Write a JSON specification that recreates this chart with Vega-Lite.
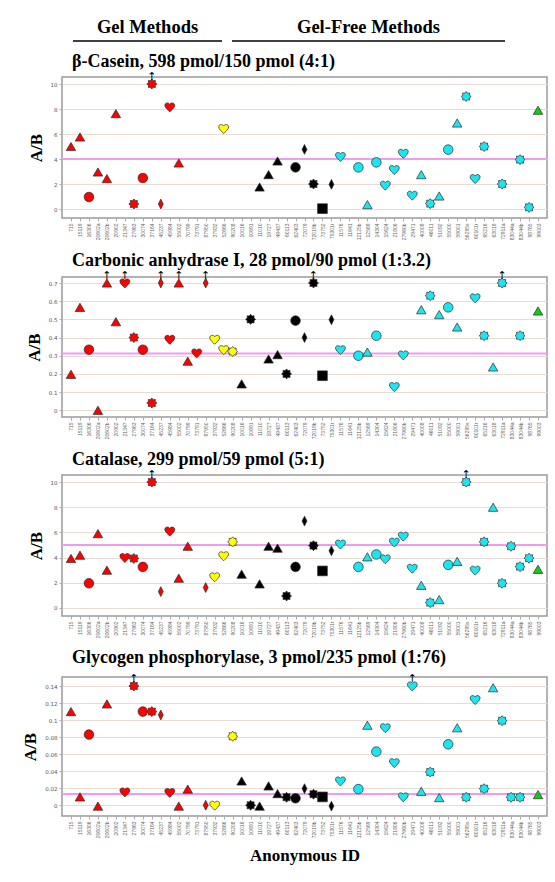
{
  "$schema": "https://vega.github.io/schema/vega-lite/v6.json",
  "background": "white",
  "padding": {"left": 21, "top": 18, "right": 5, "bottom": 5},
  "datasets": {
    "labs": [
      {"id": "715", "platform": "Gel 2D", "method": "M1"},
      {"id": "15119", "platform": "Gel 2D", "method": "M1"},
      {"id": "16306", "platform": "Gel 2D", "method": "M2"},
      {"id": "20602a", "platform": "Gel 2D", "method": "M1"},
      {"id": "20602b", "platform": "Gel 2D", "method": "M1"},
      {"id": "20902", "platform": "Gel 2D", "method": "M1"},
      {"id": "21347", "platform": "Gel 2D", "method": "M5"},
      {"id": "27963", "platform": "Gel 2D", "method": "M6"},
      {"id": "30074", "platform": "Gel 2D", "method": "M2"},
      {"id": "37164", "platform": "Gel 2D", "method": "M6"},
      {"id": "45237", "platform": "Gel 2D", "method": "M4"},
      {"id": "45984", "platform": "Gel 2D", "method": "M5"},
      {"id": "55002", "platform": "Gel 2D", "method": "M1"},
      {"id": "70799", "platform": "Gel 2D", "method": "M1"},
      {"id": "73791", "platform": "Gel 2D", "method": "M5"},
      {"id": "87950", "platform": "Gel 2D", "method": "M4"},
      {"id": "37932", "platform": "Gel 1D", "method": "M5"},
      {"id": "52666", "platform": "Gel 1D", "method": "M5"},
      {"id": "90208", "platform": "Gel 1D", "method": "M6"},
      {"id": "10016", "platform": "Free A", "method": "M1"},
      {"id": "10691", "platform": "Free A", "method": "M6"},
      {"id": "11010", "platform": "Free A", "method": "M1"},
      {"id": "19727", "platform": "Free A", "method": "M1"},
      {"id": "49437", "platform": "Free A", "method": "M1"},
      {"id": "60113", "platform": "Free A", "method": "M6"},
      {"id": "62403", "platform": "Free A", "method": "M2"},
      {"id": "72079", "platform": "Free A", "method": "M4"},
      {"id": "72019b", "platform": "Free A", "method": "M6"},
      {"id": "73752", "platform": "Free A", "method": "M3"},
      {"id": "75301r", "platform": "Free A", "method": "M4"},
      {"id": "11576", "platform": "Free B", "method": "M5"},
      {"id": "11641", "platform": "Free B", "method": "M5"},
      {"id": "12125b", "platform": "Free B", "method": "M2"},
      {"id": "12569", "platform": "Free B", "method": "M1"},
      {"id": "14304", "platform": "Free B", "method": "M2"},
      {"id": "15624", "platform": "Free B", "method": "M5"},
      {"id": "21806", "platform": "Free B", "method": "M5"},
      {"id": "27960b", "platform": "Free B", "method": "M5"},
      {"id": "29471", "platform": "Free B", "method": "M5"},
      {"id": "40008", "platform": "Free B", "method": "M1"},
      {"id": "46011", "platform": "Free B", "method": "M6"},
      {"id": "51092", "platform": "Free B", "method": "M1"},
      {"id": "55000", "platform": "Free B", "method": "M2"},
      {"id": "59001", "platform": "Free B", "method": "M1"},
      {"id": "56295s", "platform": "Free B", "method": "M6"},
      {"id": "60101r", "platform": "Free B", "method": "M5"},
      {"id": "65216", "platform": "Free B", "method": "M6"},
      {"id": "63018", "platform": "Free B", "method": "M1"},
      {"id": "72911a", "platform": "Free B", "method": "M6"},
      {"id": "83044a", "platform": "Free B", "method": "M6"},
      {"id": "83044b", "platform": "Free B", "method": "M6"},
      {"id": "98765", "platform": "Free B", "method": "M6"},
      {"id": "99003", "platform": "Free C", "method": "M1"}
    ],
    "proteins": [
      {"protein": "β-Casein", "expected": 4},
      {"protein": "Carbonic anhydrase I", "expected": 0.3125},
      {"protein": "Catalase", "expected": 5},
      {"protein": "Glycogen phosphorylase", "expected": 0.0132}
    ],
    "obs": [
      {"protein": "β-Casein", "id": "715", "ab": 5.0},
      {"protein": "β-Casein", "id": "15119", "ab": 5.76},
      {"protein": "β-Casein", "id": "16306", "ab": 0.96},
      {"protein": "β-Casein", "id": "20602a", "ab": 2.96},
      {"protein": "β-Casein", "id": "20602b", "ab": 2.43},
      {"protein": "β-Casein", "id": "20902", "ab": 7.63},
      {"protein": "β-Casein", "id": "27963", "ab": 0.4},
      {"protein": "β-Casein", "id": "30074", "ab": 2.48},
      {"protein": "β-Casein", "id": "37164", "ab": 10, "capped": true},
      {"protein": "β-Casein", "id": "45237", "ab": 0.4},
      {"protein": "β-Casein", "id": "45984", "ab": 8.16},
      {"protein": "β-Casein", "id": "55002", "ab": 3.68},
      {"protein": "β-Casein", "id": "52666", "ab": 6.43},
      {"protein": "β-Casein", "id": "11010", "ab": 1.76},
      {"protein": "β-Casein", "id": "19727", "ab": 2.75},
      {"protein": "β-Casein", "id": "49437", "ab": 3.84},
      {"protein": "β-Casein", "id": "62403", "ab": 3.33},
      {"protein": "β-Casein", "id": "72079", "ab": 4.77},
      {"protein": "β-Casein", "id": "72019b", "ab": 2.0},
      {"protein": "β-Casein", "id": "73752", "ab": 0.03},
      {"protein": "β-Casein", "id": "75301r", "ab": 1.97},
      {"protein": "β-Casein", "id": "11576", "ab": 4.2},
      {"protein": "β-Casein", "id": "12125b", "ab": 3.33},
      {"protein": "β-Casein", "id": "12569", "ab": 0.35},
      {"protein": "β-Casein", "id": "14304", "ab": 3.73},
      {"protein": "β-Casein", "id": "15624", "ab": 1.9},
      {"protein": "β-Casein", "id": "21806", "ab": 3.15},
      {"protein": "β-Casein", "id": "27960b", "ab": 4.45},
      {"protein": "β-Casein", "id": "29471", "ab": 1.1},
      {"protein": "β-Casein", "id": "40008", "ab": 2.75},
      {"protein": "β-Casein", "id": "46011", "ab": 0.43},
      {"protein": "β-Casein", "id": "51092", "ab": 1.04},
      {"protein": "β-Casein", "id": "55000", "ab": 4.75},
      {"protein": "β-Casein", "id": "59001", "ab": 6.88},
      {"protein": "β-Casein", "id": "56295s", "ab": 9.0},
      {"protein": "β-Casein", "id": "60101r", "ab": 2.43},
      {"protein": "β-Casein", "id": "65216", "ab": 5.0},
      {"protein": "β-Casein", "id": "72911a", "ab": 2.0},
      {"protein": "β-Casein", "id": "83044b", "ab": 3.95},
      {"protein": "β-Casein", "id": "98765", "ab": 0.13},
      {"protein": "β-Casein", "id": "99003", "ab": 7.9},

      {"protein": "Carbonic anhydrase I", "id": "715", "ab": 0.198},
      {"protein": "Carbonic anhydrase I", "id": "15119", "ab": 0.566},
      {"protein": "Carbonic anhydrase I", "id": "16306", "ab": 0.333},
      {"protein": "Carbonic anhydrase I", "id": "20602a", "ab": 0.0},
      {"protein": "Carbonic anhydrase I", "id": "20602b", "ab": 0.7, "capped": true},
      {"protein": "Carbonic anhydrase I", "id": "20902", "ab": 0.487},
      {"protein": "Carbonic anhydrase I", "id": "21347", "ab": 0.7, "capped": true},
      {"protein": "Carbonic anhydrase I", "id": "27963", "ab": 0.40},
      {"protein": "Carbonic anhydrase I", "id": "30074", "ab": 0.333},
      {"protein": "Carbonic anhydrase I", "id": "37164", "ab": 0.04},
      {"protein": "Carbonic anhydrase I", "id": "45237", "ab": 0.7, "capped": true},
      {"protein": "Carbonic anhydrase I", "id": "45984", "ab": 0.39},
      {"protein": "Carbonic anhydrase I", "id": "55002", "ab": 0.7, "capped": true},
      {"protein": "Carbonic anhydrase I", "id": "70799", "ab": 0.27},
      {"protein": "Carbonic anhydrase I", "id": "73791", "ab": 0.315},
      {"protein": "Carbonic anhydrase I", "id": "87950", "ab": 0.7, "capped": true},
      {"protein": "Carbonic anhydrase I", "id": "37932", "ab": 0.39},
      {"protein": "Carbonic anhydrase I", "id": "52666", "ab": 0.333},
      {"protein": "Carbonic anhydrase I", "id": "90208", "ab": 0.323},
      {"protein": "Carbonic anhydrase I", "id": "10016", "ab": 0.145},
      {"protein": "Carbonic anhydrase I", "id": "10691", "ab": 0.50},
      {"protein": "Carbonic anhydrase I", "id": "19727", "ab": 0.282},
      {"protein": "Carbonic anhydrase I", "id": "49437", "ab": 0.306},
      {"protein": "Carbonic anhydrase I", "id": "60113", "ab": 0.2},
      {"protein": "Carbonic anhydrase I", "id": "62403", "ab": 0.493},
      {"protein": "Carbonic anhydrase I", "id": "72079", "ab": 0.40},
      {"protein": "Carbonic anhydrase I", "id": "72019b", "ab": 0.7, "capped": true},
      {"protein": "Carbonic anhydrase I", "id": "73752", "ab": 0.19},
      {"protein": "Carbonic anhydrase I", "id": "75301r", "ab": 0.498},
      {"protein": "Carbonic anhydrase I", "id": "11576", "ab": 0.333},
      {"protein": "Carbonic anhydrase I", "id": "12125b", "ab": 0.30},
      {"protein": "Carbonic anhydrase I", "id": "12569", "ab": 0.32},
      {"protein": "Carbonic anhydrase I", "id": "14304", "ab": 0.41},
      {"protein": "Carbonic anhydrase I", "id": "21806", "ab": 0.13},
      {"protein": "Carbonic anhydrase I", "id": "27960b", "ab": 0.304},
      {"protein": "Carbonic anhydrase I", "id": "40008", "ab": 0.553},
      {"protein": "Carbonic anhydrase I", "id": "46011", "ab": 0.63},
      {"protein": "Carbonic anhydrase I", "id": "51092", "ab": 0.526},
      {"protein": "Carbonic anhydrase I", "id": "55000", "ab": 0.566},
      {"protein": "Carbonic anhydrase I", "id": "59001", "ab": 0.458},
      {"protein": "Carbonic anhydrase I", "id": "60101r", "ab": 0.618},
      {"protein": "Carbonic anhydrase I", "id": "65216", "ab": 0.41},
      {"protein": "Carbonic anhydrase I", "id": "63018", "ab": 0.238},
      {"protein": "Carbonic anhydrase I", "id": "72911a", "ab": 0.7, "capped": true},
      {"protein": "Carbonic anhydrase I", "id": "83044b", "ab": 0.41},
      {"protein": "Carbonic anhydrase I", "id": "99003", "ab": 0.546},

      {"protein": "Catalase", "id": "715", "ab": 3.93},
      {"protein": "Catalase", "id": "15119", "ab": 4.19},
      {"protein": "Catalase", "id": "16306", "ab": 1.96},
      {"protein": "Catalase", "id": "20602a", "ab": 5.9},
      {"protein": "Catalase", "id": "20602b", "ab": 3.0},
      {"protein": "Catalase", "id": "21347", "ab": 4.0},
      {"protein": "Catalase", "id": "27963", "ab": 3.93},
      {"protein": "Catalase", "id": "30074", "ab": 3.26},
      {"protein": "Catalase", "id": "37164", "ab": 10, "capped": true},
      {"protein": "Catalase", "id": "45237", "ab": 1.3},
      {"protein": "Catalase", "id": "45984", "ab": 6.1},
      {"protein": "Catalase", "id": "55002", "ab": 2.36},
      {"protein": "Catalase", "id": "70799", "ab": 4.9},
      {"protein": "Catalase", "id": "87950", "ab": 1.62},
      {"protein": "Catalase", "id": "37932", "ab": 2.47},
      {"protein": "Catalase", "id": "52666", "ab": 4.14},
      {"protein": "Catalase", "id": "90208", "ab": 5.25},
      {"protein": "Catalase", "id": "10016", "ab": 2.68},
      {"protein": "Catalase", "id": "11010", "ab": 1.91},
      {"protein": "Catalase", "id": "19727", "ab": 4.9},
      {"protein": "Catalase", "id": "49437", "ab": 4.75},
      {"protein": "Catalase", "id": "60113", "ab": 0.95},
      {"protein": "Catalase", "id": "62403", "ab": 3.26},
      {"protein": "Catalase", "id": "72079", "ab": 6.9},
      {"protein": "Catalase", "id": "72019b", "ab": 4.95},
      {"protein": "Catalase", "id": "73752", "ab": 2.94},
      {"protein": "Catalase", "id": "75301r", "ab": 4.54},
      {"protein": "Catalase", "id": "11576", "ab": 5.07},
      {"protein": "Catalase", "id": "12125b", "ab": 3.26},
      {"protein": "Catalase", "id": "12569", "ab": 4.06},
      {"protein": "Catalase", "id": "14304", "ab": 4.25},
      {"protein": "Catalase", "id": "15624", "ab": 3.9},
      {"protein": "Catalase", "id": "21806", "ab": 5.23},
      {"protein": "Catalase", "id": "27960b", "ab": 5.7},
      {"protein": "Catalase", "id": "29471", "ab": 3.15},
      {"protein": "Catalase", "id": "40008", "ab": 1.8},
      {"protein": "Catalase", "id": "46011", "ab": 0.42},
      {"protein": "Catalase", "id": "51092", "ab": 0.66},
      {"protein": "Catalase", "id": "55000", "ab": 3.42},
      {"protein": "Catalase", "id": "59001", "ab": 3.7},
      {"protein": "Catalase", "id": "56295s", "ab": 10, "capped": true},
      {"protein": "Catalase", "id": "60101r", "ab": 3.0},
      {"protein": "Catalase", "id": "65216", "ab": 5.25},
      {"protein": "Catalase", "id": "63018", "ab": 8.0},
      {"protein": "Catalase", "id": "72911a", "ab": 1.96},
      {"protein": "Catalase", "id": "83044a", "ab": 4.9},
      {"protein": "Catalase", "id": "83044b", "ab": 3.28},
      {"protein": "Catalase", "id": "98765", "ab": 3.95},
      {"protein": "Catalase", "id": "99003", "ab": 3.07},

      {"protein": "Glycogen phosphorylase", "id": "715", "ab": 0.110},
      {"protein": "Glycogen phosphorylase", "id": "15119", "ab": 0.0098},
      {"protein": "Glycogen phosphorylase", "id": "16306", "ab": 0.083},
      {"protein": "Glycogen phosphorylase", "id": "20602a", "ab": -0.001},
      {"protein": "Glycogen phosphorylase", "id": "20602b", "ab": 0.119},
      {"protein": "Glycogen phosphorylase", "id": "21347", "ab": 0.0156},
      {"protein": "Glycogen phosphorylase", "id": "27963", "ab": 0.14, "capped": true},
      {"protein": "Glycogen phosphorylase", "id": "30074", "ab": 0.110},
      {"protein": "Glycogen phosphorylase", "id": "37164", "ab": 0.110},
      {"protein": "Glycogen phosphorylase", "id": "45237", "ab": 0.106},
      {"protein": "Glycogen phosphorylase", "id": "45984", "ab": 0.015},
      {"protein": "Glycogen phosphorylase", "id": "55002", "ab": -0.001},
      {"protein": "Glycogen phosphorylase", "id": "70799", "ab": 0.019},
      {"protein": "Glycogen phosphorylase", "id": "87950", "ab": 0.0},
      {"protein": "Glycogen phosphorylase", "id": "37932", "ab": 0.0},
      {"protein": "Glycogen phosphorylase", "id": "90208", "ab": 0.081},
      {"protein": "Glycogen phosphorylase", "id": "10016", "ab": 0.0285},
      {"protein": "Glycogen phosphorylase", "id": "10691", "ab": 0.0},
      {"protein": "Glycogen phosphorylase", "id": "11010", "ab": -0.001},
      {"protein": "Glycogen phosphorylase", "id": "19727", "ab": 0.0227},
      {"protein": "Glycogen phosphorylase", "id": "49437", "ab": 0.0137},
      {"protein": "Glycogen phosphorylase", "id": "60113", "ab": 0.0094},
      {"protein": "Glycogen phosphorylase", "id": "62403", "ab": 0.0082},
      {"protein": "Glycogen phosphorylase", "id": "72079", "ab": 0.0195},
      {"protein": "Glycogen phosphorylase", "id": "72019b", "ab": 0.013},
      {"protein": "Glycogen phosphorylase", "id": "73752", "ab": 0.0098},
      {"protein": "Glycogen phosphorylase", "id": "75301r", "ab": -0.001},
      {"protein": "Glycogen phosphorylase", "id": "11576", "ab": 0.0285},
      {"protein": "Glycogen phosphorylase", "id": "12125b", "ab": 0.019},
      {"protein": "Glycogen phosphorylase", "id": "12569", "ab": 0.094},
      {"protein": "Glycogen phosphorylase", "id": "14304", "ab": 0.063},
      {"protein": "Glycogen phosphorylase", "id": "15624", "ab": 0.091},
      {"protein": "Glycogen phosphorylase", "id": "21806", "ab": 0.050},
      {"protein": "Glycogen phosphorylase", "id": "27960b", "ab": 0.0098},
      {"protein": "Glycogen phosphorylase", "id": "29471", "ab": 0.14, "capped": true},
      {"protein": "Glycogen phosphorylase", "id": "40008", "ab": 0.0164},
      {"protein": "Glycogen phosphorylase", "id": "46011", "ab": 0.039},
      {"protein": "Glycogen phosphorylase", "id": "51092", "ab": 0.009},
      {"protein": "Glycogen phosphorylase", "id": "55000", "ab": 0.0716},
      {"protein": "Glycogen phosphorylase", "id": "59001", "ab": 0.091},
      {"protein": "Glycogen phosphorylase", "id": "56295s", "ab": 0.0094},
      {"protein": "Glycogen phosphorylase", "id": "60101r", "ab": 0.124},
      {"protein": "Glycogen phosphorylase", "id": "65216", "ab": 0.0195},
      {"protein": "Glycogen phosphorylase", "id": "63018", "ab": 0.138},
      {"protein": "Glycogen phosphorylase", "id": "72911a", "ab": 0.0993},
      {"protein": "Glycogen phosphorylase", "id": "83044a", "ab": 0.0094},
      {"protein": "Glycogen phosphorylase", "id": "83044b", "ab": 0.0094},
      {"protein": "Glycogen phosphorylase", "id": "99003", "ab": 0.0125}
    ]
  },
  "spacing": 9,
  "vconcat": [
    {
      "spacing": 8,
      "hconcat": [
        {"width": 2, "height": 14, "data": {"values": [{}]}, "mark": {"type": "text", "text": ""}, "view": {"stroke": null}},
        {
          "width": 149, "height": 14, "view": {"stroke": null},
          "data": {"values": [{"group": "Gel Methods"}]},
          "layer": [
            {"mark": {"type": "text", "font": "Liberation Serif", "fontSize": 18.5, "fontWeight": "bold", "baseline": "middle", "color": "black"},
             "encoding": {"text": {"field": "group"}, "y": {"datum": 1, "type": "quantitative", "scale": {"domain": [0, 1]}, "axis": null}}},
            {"mark": {"type": "rule", "color": "black", "strokeWidth": 1.3},
             "encoding": {"y": {"datum": 0, "type": "quantitative", "scale": {"domain": [0, 1]}, "axis": null}}}
          ]
        },
        {
          "width": 273, "height": 14, "view": {"stroke": null},
          "data": {"values": [{"group": "Gel-Free Methods"}]},
          "layer": [
            {"mark": {"type": "text", "font": "Liberation Serif", "fontSize": 18.5, "fontWeight": "bold", "baseline": "middle", "color": "black"},
             "encoding": {"text": {"field": "group"}, "y": {"datum": 1, "type": "quantitative", "scale": {"domain": [0, 1]}, "axis": null}}},
            {"mark": {"type": "rule", "color": "black", "strokeWidth": 1.3},
             "encoding": {"y": {"datum": 0, "type": "quantitative", "scale": {"domain": [0, 1]}, "axis": null}}}
          ]
        }
      ]
    },
    {
      "title": {"text": "β-Casein, 598 pmol/150 pmol (4:1)", "offset": 0.5},
      "width": 485, "height": 141,
      "layer": [
        {"data": {"name": "proteins"}, "transform": [{"filter": "datum.protein === 'β-Casein'"}],
         "mark": {"type": "rule", "color": "#ef9cef", "strokeWidth": 2},
         "encoding": {"y": {"field": "expected", "type": "quantitative", "title": "A/B", "scale": {"domain": [-0.72, 10.56], "nice": false, "zero": false}, "axis": {"values": [0, 2, 4, 6, 8, 10], "tickCount": 6}}}},
        {"data": {"name": "obs"},
         "transform": [{"filter": "datum.protein === 'β-Casein'"}, {"lookup": "id", "from": {"data": {"name": "labs"}, "key": "id", "fields": ["platform", "method"]}}],
         "layer": [
           {"mark": {"type": "point", "filled": true, "opacity": 1, "stroke": "#2a2a2a", "strokeWidth": 0.7},
            "encoding": {
              "x": {"field": "id", "type": "nominal", "title": null, "scale": {"type": "point", "padding": 1.78, "domain": ["715","15119","16306","20602a","20602b","20902","21347","27963","30074","37164","45237","45984","55002","70799","73791","87950","37932","52666","90208","10016","10691","11010","19727","49437","60113","62403","72079","72019b","73752","75301r","11576","11641","12125b","12569","14304","15624","21806","27960b","29471","40008","46011","51092","55000","59001","56295s","60101r","65216","63018","72911a","83044a","83044b","98765","99003"]}},
              "y": {"field": "ab", "type": "quantitative", "title": "A/B", "axis": {"values": [0, 2, 4, 6, 8, 10], "tickCount": 6}},
              "color": {"field": "platform", "type": "nominal", "legend": null, "scale": {"domain": ["Gel 2D", "Gel 1D", "Free A", "Free B", "Free C"], "range": ["#ff0000", "#ffff00", "#000000", "#1ee4ee", "#11cc11"]}},
              "shape": {"field": "method", "type": "nominal", "legend": null, "scale": {"domain": ["M1", "M2", "M3", "M4", "M5", "M6"], "range": ["triangle-up", "circle", "square", "M0,-1L0.5,0L0,1L-0.5,0Z", "M0,1C-0.3,0.6,-1,0.2,-1,-0.35C-1,-0.85,-0.3,-1,0,-0.55C0.3,-1,1,-0.85,1,-0.35C1,0.2,0.3,0.6,0,1Z", "M0,-1L0.2755,-0.6652L0.7071,-0.7071L0.6652,-0.2755L1,0L0.6652,0.2755L0.7071,0.7071L0.2755,0.6652L0,1L-0.2755,0.6652L-0.7071,0.7071L-0.6652,0.2755L-1,0L-0.6652,-0.2755L-0.7071,-0.7071L-0.2755,-0.6652Z"]}},
              "size": {"field": "method", "type": "nominal", "legend": null, "scale": {"domain": ["M1", "M2", "M3", "M4", "M5", "M6"], "range": [90, 100, 85, 60, 85, 65]}}
            }},
           {"transform": [{"filter": "datum.capped"}],
            "mark": {"type": "text", "text": "↑", "font": "DejaVu Sans", "fontSize": 11, "baseline": "bottom", "dy": -2, "color": "black"},
            "encoding": {"x": {"field": "id", "type": "nominal"}, "y": {"field": "ab", "type": "quantitative"}}}
         ]}
      ]
    },
    {
      "title": {"text": "Carbonic anhydrase I, 28 pmol/90 pmol (1:3.2)", "offset": 0.5},
      "width": 485, "height": 140,
      "layer": [
        {"data": {"name": "proteins"}, "transform": [{"filter": "datum.protein === 'Carbonic anhydrase I'"}],
         "mark": {"type": "rule", "color": "#ef9cef", "strokeWidth": 2},
         "encoding": {"y": {"field": "expected", "type": "quantitative", "title": "A/B", "scale": {"domain": [-0.037, 0.733], "nice": false, "zero": false}, "axis": {"values": [0, 0.1, 0.2, 0.3, 0.4, 0.5, 0.6, 0.7], "tickCount": 8}}}},
        {"data": {"name": "obs"},
         "transform": [{"filter": "datum.protein === 'Carbonic anhydrase I'"}, {"lookup": "id", "from": {"data": {"name": "labs"}, "key": "id", "fields": ["platform", "method"]}}],
         "layer": [
           {"mark": {"type": "point", "filled": true, "opacity": 1, "stroke": "#2a2a2a", "strokeWidth": 0.7},
            "encoding": {
              "x": {"field": "id", "type": "nominal", "title": null, "scale": {"type": "point", "padding": 1.78, "domain": ["715","15119","16306","20602a","20602b","20902","21347","27963","30074","37164","45237","45984","55002","70799","73791","87950","37932","52666","90208","10016","10691","11010","19727","49437","60113","62403","72079","72019b","73752","75301r","11576","11641","12125b","12569","14304","15624","21806","27960b","29471","40008","46011","51092","55000","59001","56295s","60101r","65216","63018","72911a","83044a","83044b","98765","99003"]}},
              "y": {"field": "ab", "type": "quantitative", "title": "A/B", "axis": {"values": [0, 0.1, 0.2, 0.3, 0.4, 0.5, 0.6, 0.7], "tickCount": 8}},
              "color": {"field": "platform", "type": "nominal", "legend": null, "scale": {"domain": ["Gel 2D", "Gel 1D", "Free A", "Free B", "Free C"], "range": ["#ff0000", "#ffff00", "#000000", "#1ee4ee", "#11cc11"]}},
              "shape": {"field": "method", "type": "nominal", "legend": null, "scale": {"domain": ["M1", "M2", "M3", "M4", "M5", "M6"], "range": ["triangle-up", "circle", "square", "M0,-1L0.5,0L0,1L-0.5,0Z", "M0,1C-0.3,0.6,-1,0.2,-1,-0.35C-1,-0.85,-0.3,-1,0,-0.55C0.3,-1,1,-0.85,1,-0.35C1,0.2,0.3,0.6,0,1Z", "M0,-1L0.2755,-0.6652L0.7071,-0.7071L0.6652,-0.2755L1,0L0.6652,0.2755L0.7071,0.7071L0.2755,0.6652L0,1L-0.2755,0.6652L-0.7071,0.7071L-0.6652,0.2755L-1,0L-0.6652,-0.2755L-0.7071,-0.7071L-0.2755,-0.6652Z"]}},
              "size": {"field": "method", "type": "nominal", "legend": null, "scale": {"domain": ["M1", "M2", "M3", "M4", "M5", "M6"], "range": [90, 100, 85, 60, 85, 65]}}
            }},
           {"transform": [{"filter": "datum.capped"}],
            "mark": {"type": "text", "text": "↑", "font": "DejaVu Sans", "fontSize": 11, "baseline": "bottom", "dy": -2, "color": "black"},
            "encoding": {"x": {"field": "id", "type": "nominal"}, "y": {"field": "ab", "type": "quantitative"}}}
         ]}
      ]
    },
    {
      "title": {"text": "Catalase, 299 pmol/59 pmol (5:1)", "offset": 0.5},
      "width": 485, "height": 141,
      "layer": [
        {"data": {"name": "proteins"}, "transform": [{"filter": "datum.protein === 'Catalase'"}],
         "mark": {"type": "rule", "color": "#ef9cef", "strokeWidth": 2},
         "encoding": {"y": {"field": "expected", "type": "quantitative", "title": "A/B", "scale": {"domain": [-0.64, 10.56], "nice": false, "zero": false}, "axis": {"values": [0, 2, 4, 6, 8, 10], "tickCount": 6}}}},
        {"data": {"name": "obs"},
         "transform": [{"filter": "datum.protein === 'Catalase'"}, {"lookup": "id", "from": {"data": {"name": "labs"}, "key": "id", "fields": ["platform", "method"]}}],
         "layer": [
           {"mark": {"type": "point", "filled": true, "opacity": 1, "stroke": "#2a2a2a", "strokeWidth": 0.7},
            "encoding": {
              "x": {"field": "id", "type": "nominal", "title": null, "scale": {"type": "point", "padding": 1.78, "domain": ["715","15119","16306","20602a","20602b","20902","21347","27963","30074","37164","45237","45984","55002","70799","73791","87950","37932","52666","90208","10016","10691","11010","19727","49437","60113","62403","72079","72019b","73752","75301r","11576","11641","12125b","12569","14304","15624","21806","27960b","29471","40008","46011","51092","55000","59001","56295s","60101r","65216","63018","72911a","83044a","83044b","98765","99003"]}},
              "y": {"field": "ab", "type": "quantitative", "title": "A/B", "axis": {"values": [0, 2, 4, 6, 8, 10], "tickCount": 6}},
              "color": {"field": "platform", "type": "nominal", "legend": null, "scale": {"domain": ["Gel 2D", "Gel 1D", "Free A", "Free B", "Free C"], "range": ["#ff0000", "#ffff00", "#000000", "#1ee4ee", "#11cc11"]}},
              "shape": {"field": "method", "type": "nominal", "legend": null, "scale": {"domain": ["M1", "M2", "M3", "M4", "M5", "M6"], "range": ["triangle-up", "circle", "square", "M0,-1L0.5,0L0,1L-0.5,0Z", "M0,1C-0.3,0.6,-1,0.2,-1,-0.35C-1,-0.85,-0.3,-1,0,-0.55C0.3,-1,1,-0.85,1,-0.35C1,0.2,0.3,0.6,0,1Z", "M0,-1L0.2755,-0.6652L0.7071,-0.7071L0.6652,-0.2755L1,0L0.6652,0.2755L0.7071,0.7071L0.2755,0.6652L0,1L-0.2755,0.6652L-0.7071,0.7071L-0.6652,0.2755L-1,0L-0.6652,-0.2755L-0.7071,-0.7071L-0.2755,-0.6652Z"]}},
              "size": {"field": "method", "type": "nominal", "legend": null, "scale": {"domain": ["M1", "M2", "M3", "M4", "M5", "M6"], "range": [90, 100, 85, 60, 85, 65]}}
            }},
           {"transform": [{"filter": "datum.capped"}],
            "mark": {"type": "text", "text": "↑", "font": "DejaVu Sans", "fontSize": 11, "baseline": "bottom", "dy": -2, "color": "black"},
            "encoding": {"x": {"field": "id", "type": "nominal"}, "y": {"field": "ab", "type": "quantitative"}}}
         ]}
      ]
    },
    {
      "title": {"text": "Glycogen phosphorylase, 3 pmol/235 pmol (1:76)", "offset": 6},
      "width": 485, "height": 139,
      "layer": [
        {"data": {"name": "proteins"}, "transform": [{"filter": "datum.protein === 'Glycogen phosphorylase'"}],
         "mark": {"type": "rule", "color": "#ef9cef", "strokeWidth": 2},
         "encoding": {"y": {"field": "expected", "type": "quantitative", "title": "A/B", "scale": {"domain": [-0.0126, 0.1506], "nice": false, "zero": false}, "axis": {"values": [0, 0.02, 0.04, 0.06, 0.08, 0.1, 0.12, 0.14], "tickCount": 8}}}},
        {"data": {"name": "obs"},
         "transform": [{"filter": "datum.protein === 'Glycogen phosphorylase'"}, {"lookup": "id", "from": {"data": {"name": "labs"}, "key": "id", "fields": ["platform", "method"]}}],
         "layer": [
           {"mark": {"type": "point", "filled": true, "opacity": 1, "stroke": "#2a2a2a", "strokeWidth": 0.7},
            "encoding": {
              "x": {"field": "id", "type": "nominal", "title": "Anonymous ID", "scale": {"type": "point", "padding": 1.78, "domain": ["715","15119","16306","20602a","20602b","20902","21347","27963","30074","37164","45237","45984","55002","70799","73791","87950","37932","52666","90208","10016","10691","11010","19727","49437","60113","62403","72079","72019b","73752","75301r","11576","11641","12125b","12569","14304","15624","21806","27960b","29471","40008","46011","51092","55000","59001","56295s","60101r","65216","63018","72911a","83044a","83044b","98765","99003"]}},
              "y": {"field": "ab", "type": "quantitative", "title": "A/B", "axis": {"values": [0, 0.02, 0.04, 0.06, 0.08, 0.1, 0.12, 0.14], "tickCount": 8}},
              "color": {"field": "platform", "type": "nominal", "legend": null, "scale": {"domain": ["Gel 2D", "Gel 1D", "Free A", "Free B", "Free C"], "range": ["#ff0000", "#ffff00", "#000000", "#1ee4ee", "#11cc11"]}},
              "shape": {"field": "method", "type": "nominal", "legend": null, "scale": {"domain": ["M1", "M2", "M3", "M4", "M5", "M6"], "range": ["triangle-up", "circle", "square", "M0,-1L0.5,0L0,1L-0.5,0Z", "M0,1C-0.3,0.6,-1,0.2,-1,-0.35C-1,-0.85,-0.3,-1,0,-0.55C0.3,-1,1,-0.85,1,-0.35C1,0.2,0.3,0.6,0,1Z", "M0,-1L0.2755,-0.6652L0.7071,-0.7071L0.6652,-0.2755L1,0L0.6652,0.2755L0.7071,0.7071L0.2755,0.6652L0,1L-0.2755,0.6652L-0.7071,0.7071L-0.6652,0.2755L-1,0L-0.6652,-0.2755L-0.7071,-0.7071L-0.2755,-0.6652Z"]}},
              "size": {"field": "method", "type": "nominal", "legend": null, "scale": {"domain": ["M1", "M2", "M3", "M4", "M5", "M6"], "range": [90, 100, 85, 60, 85, 65]}}
            }},
           {"transform": [{"filter": "datum.capped"}],
            "mark": {"type": "text", "text": "↑", "font": "DejaVu Sans", "fontSize": 11, "baseline": "bottom", "dy": -2, "color": "black"},
            "encoding": {"x": {"field": "id", "type": "nominal"}, "y": {"field": "ab", "type": "quantitative"}}}
         ]}
      ]
    }
  ],
  "config": {
    "view": {"stroke": "#9a9a9a", "strokeWidth": 1.5},
    "title": {"anchor": "start", "frame": "group", "dx": 10, "font": "Liberation Serif", "fontSize": 18, "fontWeight": "bold", "color": "black"},
    "axisX": {"labelAngle": -90, "labelFontSize": 5, "labelColor": "#666666", "labelFont": "Liberation Sans", "labelPadding": 2, "tickSize": 3, "tickColor": "#aaaaaa", "domain": false, "gridColor": "#e2e2e2", "labelOverlap": false, "titleFont": "Liberation Serif", "titleFontSize": 17, "titleFontWeight": "bold", "titleColor": "black", "titlePadding": 10},
    "axisY": {"labelFontSize": 5.5, "labelColor": "#555555", "labelFont": "DejaVu Sans", "labelPadding": 2, "tickSize": 3, "tickColor": "#aaaaaa", "domain": false, "gridColor": "#e8ddd4", "format": "~f", "labelOverlap": false, "titleFont": "Liberation Serif", "titleFontSize": 17, "titleFontWeight": "bold", "titleColor": "black", "titlePadding": 5}
  }
}
